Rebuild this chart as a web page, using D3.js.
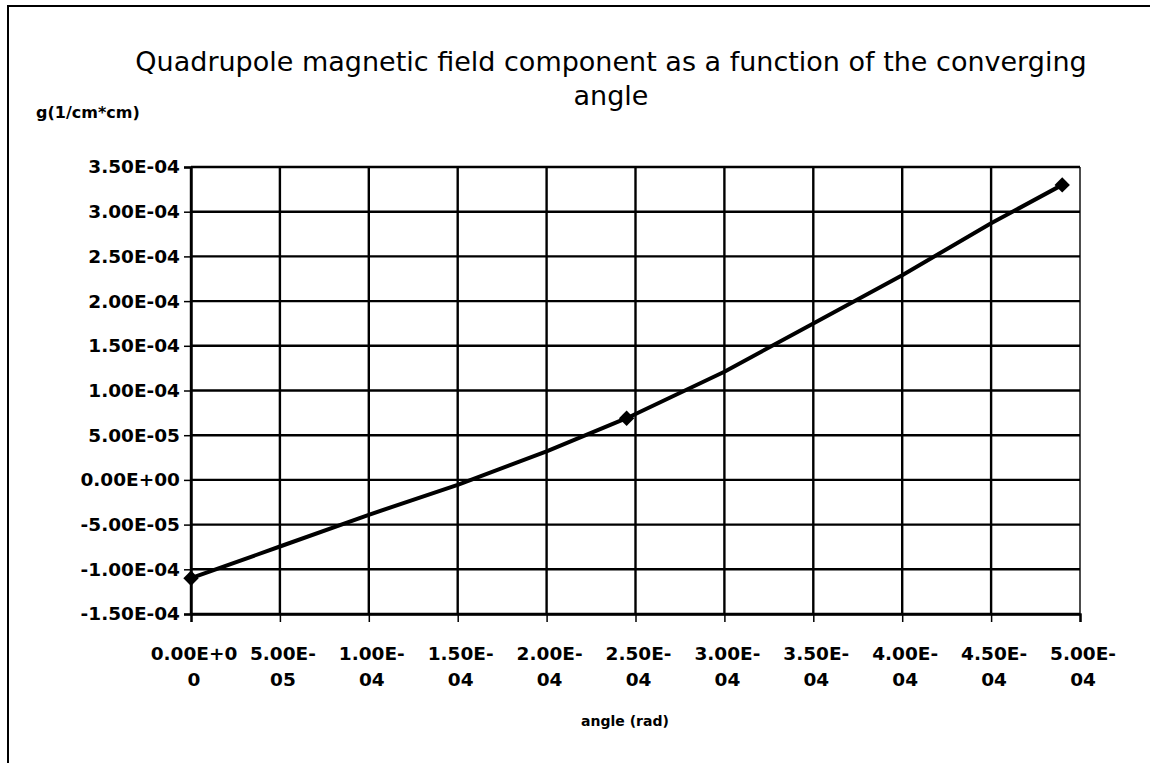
<!DOCTYPE html>
<html>
<head>
<meta charset="utf-8">
<script src="https://cdnjs.cloudflare.com/ajax/libs/d3/7.8.5/d3.min.js"></script>
<style>
  html, body { margin: 0; padding: 0; background: #fff; }
  svg text { font-family: "DejaVu Sans", "Liberation Sans", Arial, sans-serif; fill: #000; }
</style>
</head>
<body>
<div id="chart"></div>
<script>
// curve of g versus angle
var angle = [0, 5e-5, 1e-4, 1.5e-4, 2e-4, 2.45e-4, 3e-4, 3.5e-4, 4e-4, 4.5e-4, 4.9e-4]
var gValue = [-1.10e-4, -7.45e-5, -3.9e-5, -5.5e-6, 3.2e-5, 6.9e-5, 1.21e-4, 1.75e-4, 2.29e-4, 2.87e-4, 3.30e-4]
// points that carry a marker
var markerAngle = [0, 2.45e-4, 4.9e-4]
var markerValue = [-1.10e-4, 6.9e-5, 3.30e-4]

var xTicks = [0, 5e-5, 1e-4, 1.5e-4, 2e-4, 2.5e-4, 3e-4, 3.5e-4, 4e-4, 4.5e-4, 5e-4]
var xTickLabels = [["0.00E+0", "0"], ["5.00E-", "05"], ["1.00E-", "04"], ["1.50E-", "04"], ["2.00E-", "04"],
  ["2.50E-", "04"], ["3.00E-", "04"], ["3.50E-", "04"], ["4.00E-", "04"], ["4.50E-", "04"], ["5.00E-", "04"]]
var yTicks = [-1.5e-4, -1e-4, -5e-5, 0, 5e-5, 1e-4, 1.5e-4, 2e-4, 2.5e-4, 3e-4, 3.5e-4]
var yTickLabels = ["-1.50E-04", "-1.00E-04", "-5.00E-05", "0.00E+00", "5.00E-05", "1.00E-04",
  "1.50E-04", "2.00E-04", "2.50E-04", "3.00E-04", "3.50E-04"]

var titleLines = ["Quadrupole magnetic field component as a function of the converging", "angle"]
var yTitle = "g(1/cm*cm)"
var xTitle = "angle (rad)"

var width = 1150, height = 763
var plot = {left: 191, right: 1080, top: 167, bottom: 614}

var svg = d3.select("#chart").append("svg")
  .attr("width", width)
  .attr("height", height)

// outer frame (left + top only visible)
svg.append("path")
  .attr("d", `M8,${height} V6 H${width}`)
  .attr("fill", "none")
  .attr("stroke", "#000")
  .attr("stroke-width", 2)

var x = d3.scaleLinear().domain([0, 5e-4]).range([plot.left, plot.right])
var y = d3.scaleLinear().domain([-1.5e-4, 3.5e-4]).range([plot.bottom, plot.top])

// gridlines
svg.append("g").selectAll("line")
  .data(yTicks)
  .join("line")
  .attr("x1", plot.left).attr("x2", plot.right)
  .attr("y1", d => y(d)).attr("y2", d => y(d))
  .attr("stroke", "#000").attr("stroke-width", 2.4)

svg.append("g").selectAll("line")
  .data(xTicks)
  .join("line")
  .attr("y1", plot.top).attr("y2", plot.bottom)
  .attr("x1", d => x(d)).attr("x2", d => x(d))
  .attr("stroke", "#000").attr("stroke-width", d => d === 5e-4 ? 1.4 : 2.4)

// y axis
var yAxis = svg.append("g")
  .attr("transform", `translate(${plot.left},0)`)
  .call(d3.axisLeft(y).tickValues(yTicks).tickSize(7).tickPadding(4)
    .tickFormat((d, i) => yTickLabels[i]))
yAxis.select(".domain").attr("stroke", "#000").attr("stroke-width", 2.4)
yAxis.selectAll(".tick line").attr("stroke", "#000").attr("stroke-width", 1.5)
yAxis.selectAll(".tick text")
  .attr("font-size", 18.5)
  .attr("font-weight", "bold")
  .attr("font-family", "DejaVu Sans")

// x axis
var xAxis = svg.append("g")
  .attr("transform", `translate(0,${plot.bottom})`)
  .call(d3.axisBottom(x).tickValues(xTicks).tickSize(8).tickFormat(""))
xAxis.select(".domain").attr("stroke", "#000").attr("stroke-width", 2.4)
xAxis.selectAll(".tick line").attr("stroke", "#000").attr("stroke-width", 1.5)

var xl = svg.append("g").selectAll("text")
  .data(xTicks)
  .join("text")
  .attr("x", d => x(d) + 3)
  .attr("y", plot.bottom + 46)
  .attr("text-anchor", "middle")
  .attr("font-size", 18.5)
  .attr("font-weight", "bold")
xl.append("tspan").text((d, i) => xTickLabels[i][0])
xl.append("tspan").attr("x", d => x(d) + 3).attr("dy", 26).text((d, i) => xTickLabels[i][1])

// line
var pts = angle.map((a, i) => [a, gValue[i]])
svg.append("path")
  .datum(pts)
  .attr("fill", "none")
  .attr("stroke", "#000")
  .attr("stroke-width", 4)
  .attr("stroke-linejoin", "round")
  .attr("d", d3.line().x(d => x(d[0])).y(d => y(d[1])))

// markers
var mk = markerAngle.map((a, i) => [a, markerValue[i]])
svg.append("g").selectAll("path")
  .data(mk)
  .join("path")
  .attr("transform", d => `translate(${x(d[0])},${y(d[1])})`)
  .attr("d", d3.symbol().type(d3.symbolDiamond2).size(150))
  .attr("fill", "#000")

// titles
var t = svg.append("text")
  .attr("text-anchor", "middle")
  .attr("font-size", 27)
titleLines.forEach((s, i) => {
  t.append("tspan").attr("x", 611).attr("y", 71 + i * 34).text(s)
})

svg.append("text")
  .attr("x", 36).attr("y", 118)
  .attr("font-size", 16)
  .attr("font-weight", "bold")
  .text(yTitle)

svg.append("text")
  .attr("x", 625).attr("y", 726)
  .attr("text-anchor", "middle")
  .attr("font-size", 14)
  .attr("font-weight", "bold")
  .text(xTitle)
</script>
</body>
</html>
